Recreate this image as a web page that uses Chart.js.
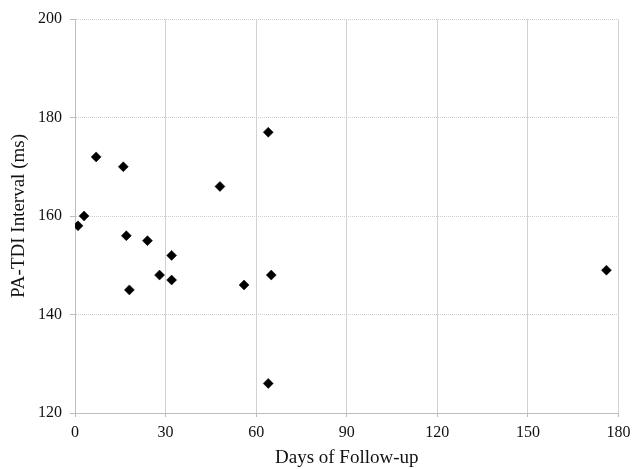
<!DOCTYPE html>
<html>
<head>
<meta charset="utf-8">
<script src="https://cdn.jsdelivr.net/npm/chart.js@4/dist/chart.umd.min.js"></script>
<style>
  html, body { margin: 0; padding: 0; background: #fff; }
  #wrap { width: 632px; height: 469px; position: relative; }
</style>
</head>
<body>
<div id="wrap"><canvas id="c"></canvas></div>
<script>
// Data
const daysOfFollowUp = [1, 3, 7, 16, 48, 64, 17, 24, 32, 28, 32, 18, 56, 65, 64, 176];
const paTdiInterval  = [158, 160, 172, 170, 166, 177, 156, 155, 152, 148, 147, 145, 146, 148, 126, 149];
const xTicks = [0, 30, 60, 90, 120, 150, 180];
const yTicks = [120, 140, 160, 180, 200];
const xTitle = 'Days of Follow-up';
const yTitle = 'PA-TDI Interval (ms)';

const points = daysOfFollowUp.map((d, i) => ({ x: d, y: paTdiInterval[i] }));
const serif = "'Liberation Serif', 'Times New Roman', serif";

new Chart(document.getElementById('c'), {
  type: 'scatter',
  data: {
    datasets: [{
      data: points,
      pointStyle: 'rectRot',
      pointRadius: 5,
      pointHoverRadius: 5,
      backgroundColor: '#000',
      borderColor: '#000',
      borderWidth: 0.5
    }]
  },
  options: {
    responsive: true,
    maintainAspectRatio: false,
    animation: false,
    events: [],
    layout: { padding: { top: 19, right: 13.5, left: 0, bottom: 0 } },
    plugins: { legend: { display: false }, tooltip: { enabled: false } },
    scales: {
      x: {
        type: 'linear',
        min: xTicks[0],
        max: xTicks[xTicks.length - 1],
        afterBuildTicks: s => { s.ticks = xTicks.map(v => ({ value: v })); },
        afterFit: s => { s.height = 56; s.paddingRight = 0; s.paddingLeft = 0; },
        ticks: { font: { family: serif, size: 16 }, color: '#111', padding: 6, maxRotation: 0 },
        grid: { color: '#d2d2d2', lineWidth: 1, tickLength: 4, tickColor: '#bdbdbd' },
        border: { color: '#bdbdbd', width: 1 },
        title: { display: true, text: xTitle, font: { family: serif, size: 19 }, color: '#111', padding: { top: 1, bottom: 0 } }
      },
      y: {
        type: 'linear',
        min: yTicks[0],
        max: yTicks[yTicks.length - 1],
        afterBuildTicks: s => { s.ticks = yTicks.map(v => ({ value: v })); },
        afterFit: s => { s.width = 75; s.paddingTop = 0; s.paddingBottom = 0; },
        ticks: { font: { family: serif, size: 16 }, color: '#111', padding: 8 },
        grid: { color: '#cfcfcf', lineWidth: 1, tickLength: 5, tickColor: '#bdbdbd', tickBorderDash: [] },
        border: { color: '#bdbdbd', width: 1, dash: [1, 1] },
        title: { display: true, text: yTitle, font: { family: serif, size: 19 }, color: '#111', padding: { top: 8, bottom: 0 } }
      }
    }
  }
});
</script>
</body>
</html>
